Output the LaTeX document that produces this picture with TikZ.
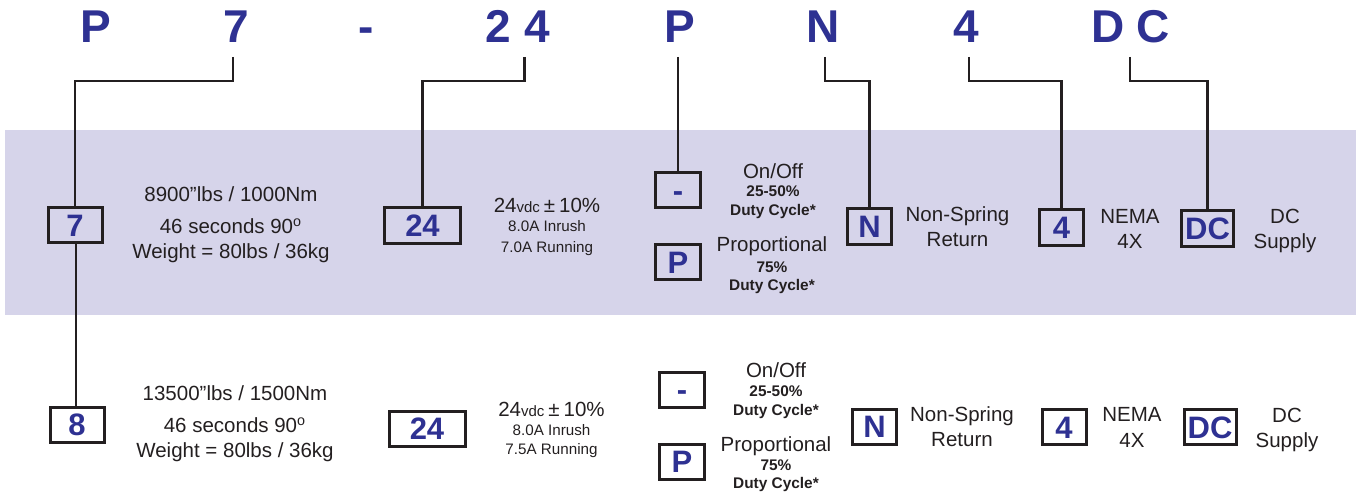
\documentclass[tikz,border=0pt]{standalone}
\usepackage{fontspec}
\setmainfont{Liberation Sans}

\definecolor{codeblue}{RGB}{46,49,146}
\definecolor{bandfill}{RGB}{214,212,234}
\definecolor{ink}{RGB}{35,31,32}

\begin{document}
\begin{tikzpicture}[x=0.5pt,y=-0.5pt]
	% Configurable lengths
	\def\boxHeight{17.5pt}
	\def\modelWidth{27pt}
	\def\voltWidth{38pt}
	\def\optWidth{22.5pt}
	\def\dcWidth{26pt}

	% Styles
	\tikzstyle{code}=[font={\fontsize{23}{23}\selectfont\bfseries}, text=codeblue, anchor=base, inner sep=0pt]
	\tikzstyle{optbox}=[draw=ink, line width=1.5pt, minimum height=\boxHeight, inner sep=0pt, text height=11.1pt, text depth=0pt, text=codeblue, font={\fontsize{15.5}{15.5}\selectfont\bfseries}]
	\tikzstyle{spec}=[font={\fontsize{10.25}{12}\selectfont}, text=ink, anchor=base, inner sep=0pt]
	\tikzstyle{note}=[font={\fontsize{7.6}{9}\selectfont}, text=ink, anchor=base, inner sep=0pt]
	\tikzstyle{duty}=[font={\fontsize{7.7}{9}\selectfont\bfseries}, text=ink, anchor=base, inner sep=0pt]
	\tikzstyle{link}=[draw=ink, line width=1.1pt]

	\useasboundingbox (0,0) rectangle (1356,492);
	\fill[bandfill] (5,130) rectangle (1356,315);

	% Part number
	\node[code] (codeP) at (96,43) {P};
	\node[code] (code7) at (236,43) {7};
	\node[code] (codeDash) at (366,43) {-};
	\node[code] (code24) at (518,43) {2\kern7pt4};
	\node[code] (codeP2) at (680,43) {P};
	\node[code] (codeN) at (823,43) {N};
	\node[code] (code4) at (966,43) {4};
	\node[code] (codeDC) at (1131,43) {D\kern6pt C};

	% First model
	\node[optbox, minimum width=\modelWidth] (box7) at (75,225) {7};
	\node[spec] (torque7) at (231,202) {8900”lbs / 1000Nm};
	\node[spec] (time7) at (231,234) {46 seconds 90\textsuperscript{o}};
	\node[spec] (weight7) at (231,258) {Weight = 80lbs / 36kg};

	\node[optbox, minimum width=\voltWidth] (box24) at (422.5,225.5) {24};
	\node[spec] (volt24) at (547,213) {24{\fontsize{7.5}{9}\selectfont vdc}\hspace{2pt}±\hspace{2pt}10\%};
	\node[note] (inrush24) at (547,232) {8.0A Inrush};
	\node[note] (run24) at (547,252) {7.0A Running};

	\node[optbox, minimum width=\optWidth] (boxOff) at (678,190.5) {-};
	\node[spec] (onoff) at (773,178) {On/Off};
	\node[duty] (onoffDuty) at (773,197) {25-50\%};
	\node[duty] (onoffCycle) at (773,215) {Duty Cycle*};

	\node[optbox, minimum width=\optWidth] (boxProp) at (678,262) {P};
	\node[spec] (prop) at (772,251.5) {Proportional};
	\node[duty] (propDuty) at (772,272) {75\%};
	\node[duty] (propCycle) at (772,290) {Duty Cycle*};

	\node[optbox, minimum width=22pt] (boxN) at (869.5,226.5) {N};
	\node[spec] (nonspring) at (957.5,221.5) {Non-Spring};
	\node[spec] (return) at (957.5,246.5) {Return};

	\node[optbox, minimum width=22pt] (box4) at (1061.5,227.5) {4};
	\node[spec] (nema) at (1130,223.5) {NEMA};
	\node[spec] (nemaX) at (1130,249) {4X};

	\node[optbox, minimum width=\dcWidth] (boxDC) at (1207.5,228.5) {DC};
	\node[spec] (dc) at (1285,224) {DC};
	\node[spec] (supply) at (1285,249) {Supply};

	% Second model
	\node[optbox, minimum width=\modelWidth] (box8) at (77,424.5) {8};
	\node[spec] (torque8) at (235,400) {13500”lbs / 1500Nm};
	\node[spec] (time8) at (235,432.5) {46 seconds 90\textsuperscript{o}};
	\node[spec] (weight8) at (235,457.5) {Weight = 80lbs / 36kg};

	\node[optbox, minimum width=\voltWidth] (box24b) at (427,428.5) {24};
	\node[spec] (volt24b) at (551.5,416.5) {24{\fontsize{7.5}{9}\selectfont vdc}\hspace{2pt}±\hspace{2pt}10\%};
	\node[note] (inrush24b) at (551.5,435) {8.0A Inrush};
	\node[note] (run24b) at (551.5,454) {7.5A Running};

	\node[optbox, minimum width=\optWidth] (boxOffb) at (682,389.5) {-};
	\node[spec] (onoffb) at (776,377.5) {On/Off};
	\node[duty] (onoffDutyb) at (776,396) {25-50\%};
	\node[duty] (onoffCycleb) at (776,415) {Duty Cycle*};

	\node[optbox, minimum width=\optWidth] (boxPropb) at (682,461.5) {P};
	\node[spec] (propb) at (776,451) {Proportional};
	\node[duty] (propDutyb) at (776,470.5) {75\%};
	\node[duty] (propCycleb) at (776,488) {Duty Cycle*};

	\node[optbox, minimum width=22pt] (boxNb) at (874.5,426.5) {N};
	\node[spec] (nonspringb) at (962,421.5) {Non-Spring};
	\node[spec] (returnb) at (962,446) {Return};

	\node[optbox, minimum width=22pt] (box4b) at (1064,427) {4};
	\node[spec] (nemab) at (1132,421.5) {NEMA};
	\node[spec] (nemaXb) at (1132,447.5) {4X};

	\node[optbox, minimum width=\dcWidth] (boxDCb) at (1210,427) {DC};
	\node[spec] (dcb) at (1287,422) {DC};
	\node[spec] (supplyb) at (1287,447.5) {Supply};

	% Leader lines
	\draw[link] (code7.base) ++(-3,14) -- ++(0,24) -| (box7.north);
	\draw[link] (box7.south) ++(1,0) -- ([xshift=0.5pt]box7.south |- box8.north);
	\draw[link] (code24.base) ++(6.5,14) -- ++(0,24) -| (box24.north);
	\draw[link] (codeP2.base -| boxOff.north) ++(0,14) -- (boxOff.north);
	\draw[link] (codeN.base) ++(2,14) -- ++(0,24) -| (boxN.north);
	\draw[link] (code4.base) ++(3,14) -- ++(0,24) -| (box4.north);
	\draw[link] (codeDC.base) ++(-1,14) -- ++(0,24) -| (boxDC.north);
\end{tikzpicture}
\end{document}
